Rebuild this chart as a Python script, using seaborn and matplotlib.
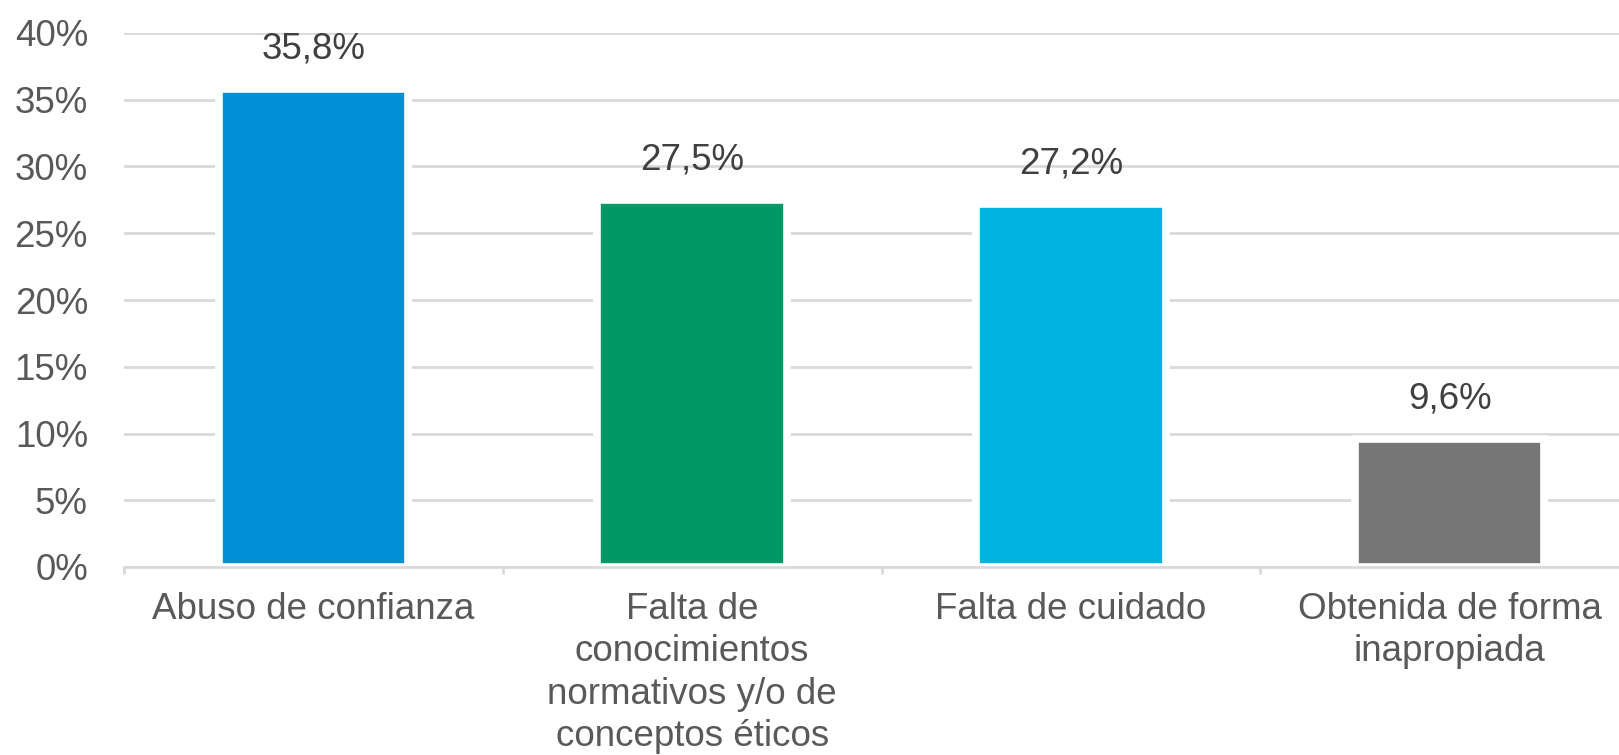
import matplotlib
matplotlib.use("Agg")
import matplotlib.pyplot as plt
import seaborn as sns
import pandas as pd
from matplotlib.ticker import FuncFormatter, FixedLocator

categories = ["Abuso de confianza",
              "Falta de\nconocimientos\nnormativos y/o de\nconceptos éticos",
              "Falta de cuidado",
              "Obtenida de forma\ninapropiada"]
values = [35.8, 27.5, 27.2, 9.6]
labels = ["35,8%", "27,5%", "27,2%", "9,6%"]
colors = ["#008FD5", "#009966", "#00B3E0", "#767676"]

sns.set_theme(style="white")
plt.rcParams['font.family'] = ['Liberation Sans', 'DejaVu Sans']

fig = plt.figure(figsize=(16.19, 7.55), dpi=100)
ax = fig.add_axes([124/1619, 188/755, (1639-124)/1619, 534/755])

df = pd.DataFrame({"cat": categories, "val": values})
sns.barplot(data=df, x="cat", y="val", hue="cat", palette=colors, legend=False,
            width=0.5, ax=ax, zorder=2, edgecolor="white", linewidth=5.5, saturation=1)

ax.set_ylim(0, 40)
ax.set_xlim(-0.5, 3.5)
ax.set_yticks(range(0, 41, 5))
ax.yaxis.set_major_formatter(FuncFormatter(lambda v, p: f"{int(v)}%"))
ax.grid(axis="y", color="#D9D9D9", linewidth=2, zorder=0)
ax.set_axisbelow(True)
for s in ["top", "right", "left"]:
    ax.spines[s].set_visible(False)
ax.spines["bottom"].set_color("#D9D9D9")
ax.spines["bottom"].set_linewidth(2)
ax.spines["bottom"].set_zorder(3)

ax.set_xlabel("")
ax.set_ylabel("")
ax.tick_params(axis="y", length=0, pad=26, labelsize=26.5, labelcolor="#595959")
ax.tick_params(axis="x", which="major", length=0, pad=18, labelsize=26.5, labelcolor="#595959")
ax.xaxis.set_minor_locator(FixedLocator([-0.5, 0.5, 1.5, 2.5, 3.5]))
ax.tick_params(axis="x", which="minor", bottom=True, length=5, width=2,
               color="#D9D9D9", direction="out")
for t in ax.get_xticklabels():
    t.set_linespacing(1.27)
    t.set_va("top")

for i, (v, lab) in enumerate(zip(values, labels)):
    ax.annotate(lab, xy=(i, v), xytext=(0, 16), textcoords="offset points",
                ha="center", va="bottom", fontsize=26.5, color="#404040")

fig.savefig("out.png", dpi=100)
